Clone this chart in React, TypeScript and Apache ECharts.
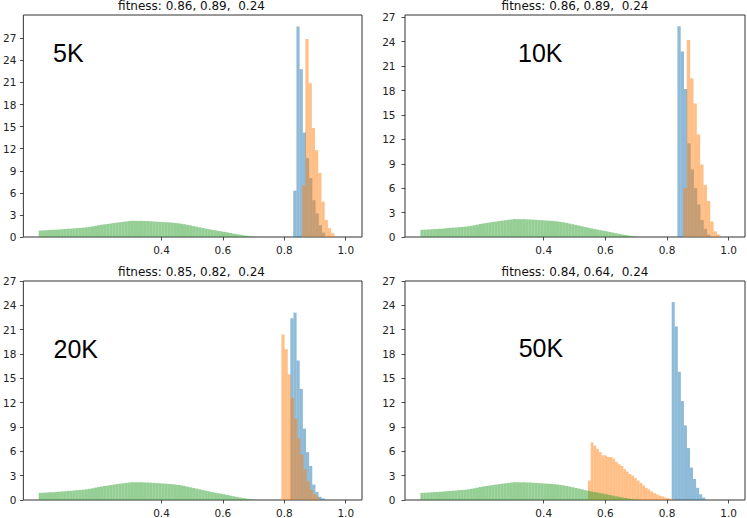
import React, { useEffect, useRef } from "react";
import * as echarts from "echarts";

const PANEL_LABELS = ["5K", "10K", "20K", "50K"];
const TITLES = [
  "fitness: 0.86, 0.89,  0.24",
  "fitness: 0.86, 0.89,  0.24",
  "fitness: 0.85, 0.82,  0.24",
  "fitness: 0.84, 0.64,  0.24",
];
const X_TICKS = [0.4, 0.6, 0.8, 1.0];
const Y_TICKS = [0, 3, 6, 9, 12, 15, 18, 21, 24, 27];
const Y_MAX = [30.16, 27.28, 27.0, 27.0];

// green histogram (same in every panel): bins of 0.01 starting at 0.0
const GREEN_START = 0.0;
const GREEN_WIDTH = 0.01;
const GREEN = [
  0.88, 0.9, 0.92, 0.95, 0.97, 0.99, 1.02, 1.04, 1.08, 1.12,
  1.14, 1.17, 1.21, 1.24, 1.27, 1.32, 1.38, 1.44, 1.52, 1.6,
  1.67, 1.73, 1.78, 1.84, 1.9, 1.96, 2.01, 2.06, 2.11, 2.16,
  2.2, 2.19, 2.18, 2.19, 2.17, 2.16, 2.13, 2.11, 2.08, 2.06,
  2.03, 2.01, 1.99, 1.95, 1.91, 1.86, 1.8, 1.73, 1.65, 1.57,
  1.48, 1.4, 1.31, 1.22, 1.14, 1.06, 0.98, 0.91, 0.84, 0.77,
  0.7, 0.62, 0.54, 0.46, 0.39, 0.32, 0.25, 0.19, 0.13, 0.08, 0.04,
];

const BLUE_START = [0.829, 0.8337, 0.8196, 0.8152];
const BLUE_WIDTH = [0.0104, 0.0107, 0.0102, 0.0099];
const BLUE_5K = [6.3, 28.6, 22.8, 14.2, 10.7, 8.0, 5.0, 3.2, 1.6, 0.6];
const BLUE_10K = [25.9, 22.8, 18.2, 11.5, 8.3, 6.0, 4.0, 2.1, 1.0, 0.3];
const BLUE_20K = [22.4, 23.1, 17.2, 13.7, 8.8, 5.9, 4.2, 1.9, 1.0, 0.4, 0.2];
const BLUE_50K = [24.4, 21.4, 15.8, 12.2, 9.2, 6.4, 4.0, 2.6, 1.5, 0.7, 0.3];
const BLUE = [BLUE_5K, BLUE_10K, BLUE_20K, BLUE_50K];

const ORANGE_START = [0.858, 0.8532, 0.7905, 0.5437];
const ORANGE_WIDTH = [0.0105, 0.0109, 0.0103, 0.0088];
const ORANGE_5K = [7.0, 26.9, 20.9, 14.8, 11.8, 8.7, 4.8, 2.3, 1.2, 0.5];
const ORANGE_10K = [6.0, 24.2, 19.5, 16.4, 12.6, 8.9, 6.4, 4.4, 1.9, 0.7, 0.3];
const ORANGE_20K = [20.4, 18.6, 15.5, 12.6, 10.0, 7.6, 5.6, 3.8, 2.3, 1.3, 0.7, 0.4];
const ORANGE_50K = [
  2.4, 7.1, 6.7, 6.3, 5.9, 5.5, 5.5, 5.3, 5.3, 5.1, 4.7, 4.4, 4.2, 3.8, 3.5, 3.2,
  3.0, 2.7, 2.4, 2.1, 1.8, 1.5, 1.3, 1.05, 0.85, 0.7, 0.55, 0.45, 0.3, 0.25, 0.15, 0.1,
];
const ORANGE = [ORANGE_5K, ORANGE_10K, ORANGE_20K, ORANGE_50K];

const C_BLUE = "rgba(31,119,180,0.5)";
const C_ORANGE = "rgba(255,127,14,0.5)";
const C_GREEN = "rgba(44,160,44,0.5)";

const GRIDS = [
  { left: 21, top: 15, width: 341, height: 222 },
  { left: 405, top: 15, width: 340, height: 222 },
  { left: 21, top: 281, width: 341, height: 220.5 },
  { left: 405, top: 281, width: 340, height: 220.5 },
];
const Y_LABEL_MARGIN = [7, 9.5, 7, 9.5];
const LABEL_POS = [
  [53, 53.3],
  [518, 53],
  [53.5, 348.6],
  [518.7, 348.3],
];

function histSeries(g: number, start: number, width: number, heights: number[], color: string) {
  const data = heights.map((h, i) => [start + i * width, start + (i + 1) * width, h]);
  return {
    type: "custom",
    xAxisIndex: g,
    yAxisIndex: g,
    silent: true,
    data,
    encode: { x: [0, 1], y: 2 },
    renderItem: (_p: any, api: any) => {
      const p0 = api.coord([api.value(0), api.value(2)]);
      const p1 = api.coord([api.value(1), 0]);
      return {
        type: "rect",
        shape: { x: p0[0], y: p0[1], width: p1[0] - p0[0], height: p1[1] - p0[1] },
        style: { fill: color },
      };
    },
  };
}

export default function App() {
  const ref = useRef<HTMLDivElement>(null);
  useEffect(() => {
    if (!ref.current) return;
    const chart = echarts.init(ref.current, undefined, { renderer: "svg" });
    const series: any[] = [];
    GRIDS.forEach((_, g) => {
      series.push(histSeries(g, BLUE_START[g], BLUE_WIDTH[g], BLUE[g], C_BLUE));
      series.push(histSeries(g, ORANGE_START[g], ORANGE_WIDTH[g], ORANGE[g], C_ORANGE));
      series.push(histSeries(g, GREEN_START, GREEN_WIDTH, GREEN, C_GREEN));
    });
    const graphics: any[] = [];
    GRIDS.forEach((gr, g) => {
      const titleBaseline = gr.top - 5.2;
      graphics.push({
        type: "text",
        x: gr.left + gr.width / 2,
        y: titleBaseline - 4.15,
        style: {
          text: TITLES[g],
          font: "12px 'DejaVu Sans'",
          fill: "#111",
          align: "center",
          verticalAlign: "middle",
          textAlign: "center",
          textVerticalAlign: "middle",
        },
      });
      graphics.push({
        type: "text",
        x: LABEL_POS[g][0],
        y: LABEL_POS[g][1],
        style: {
          text: PANEL_LABELS[g],
          font: "25px 'Liberation Sans'",
          fill: "#000",
          align: "left",
          verticalAlign: "middle",
          textAlign: "left",
          textVerticalAlign: "middle",
        },
      });
    });
    const option: any = {
      animation: false,
      backgroundColor: "#fff",
      grid: GRIDS.map((gr) => ({
        ...gr,
        show: true,
        borderColor: "#333",
        borderWidth: 1,
        backgroundColor: "transparent",
        containLabel: false,
      })),
      xAxis: GRIDS.map((_, g) => ({
        type: "value",
        gridIndex: g,
        min: -0.05,
        max: 1.053,
        axisLine: { show: false, onZero: false },
        splitLine: { show: false },
        axisTick: {
          show: true,
          length: 3.5,
          customValues: X_TICKS,
          lineStyle: { color: "#222", width: 0.8 },
        },
        axisLabel: {
          customValues: X_TICKS,
          formatter: (v: number) => v.toFixed(1),
          margin: 7,
          fontSize: 10.5,
          fontFamily: "DejaVu Sans",
          color: "#222",
        },
      })),
      yAxis: GRIDS.map((_, g) => ({
        type: "value",
        gridIndex: g,
        min: 0,
        max: Y_MAX[g],
        axisLine: { show: false, onZero: false },
        splitLine: { show: false },
        axisTick: {
          show: true,
          length: 3.5,
          customValues: Y_TICKS,
          lineStyle: { color: "#222", width: 0.8 },
        },
        axisLabel: {
          customValues: Y_TICKS,
          margin: Y_LABEL_MARGIN[g],
          fontSize: 10.5,
          fontFamily: "DejaVu Sans",
          color: "#222",
        },
      })),
      series,
      graphic: graphics,
    };
    chart.setOption(option);
    return () => chart.dispose();
  }, []);
  return (
    <div
      ref={ref}
      style={{ position: "absolute", left: 0, top: 0, width: 747, height: 518 }}
    />
  );
}
